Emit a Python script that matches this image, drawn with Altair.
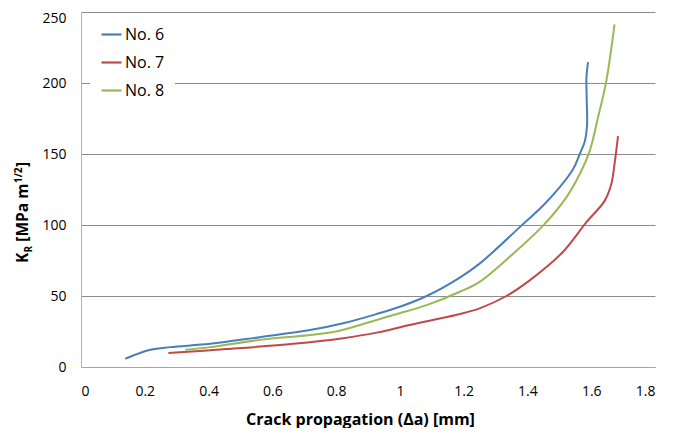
import altair as alt
import pandas as pd

# Series
no6_x = [0.139, 0.217, 0.28, 0.405, 0.561, 0.718, 0.822, 0.927, 1.0, 1.084, 1.188, 1.25, 1.376, 1.459, 1.543, 1.564, 1.58, 1.587, 1.586, 1.585, 1.590]
no6_y = [5.8, 12.1, 14.0, 16.3, 21.0, 26.0, 30.8, 37.3, 42.4, 50.0, 63.0, 72.8, 98.5, 116.0, 139.3, 150.0, 159.0, 171.0, 187.0, 203.5, 214.7]

no7_x = [0.274, 0.457, 0.666, 0.822, 0.927, 1.031, 1.188, 1.25, 1.334, 1.407, 1.511, 1.585, 1.642, 1.663, 1.673, 1.684]
no7_y = [9.8, 12.6, 16.3, 20.3, 24.2, 29.6, 37.3, 41.3, 50.0, 61.0, 81.0, 102.0, 117.0, 128.8, 142.8, 162.6]

no8_x = [0.327, 0.405, 0.561, 0.718, 0.80, 0.875, 0.979, 1.084, 1.188, 1.25, 1.355, 1.449, 1.522, 1.564, 1.595, 1.621, 1.647, 1.673]
no8_y = [12.1, 14.0, 19.1, 22.6, 25.0, 29.6, 36.6, 43.6, 53.0, 60.0, 79.8, 99.6, 119.5, 135.9, 152.0, 175.5, 201.0, 241.3]

series_names = ["No. 6", "No. 7", "No. 8"]
series_colors = ["#4A7EBB", "#BE4B48", "#98B954"]
x_ticks = [0, 0.2, 0.4, 0.6, 0.8, 1.0, 1.2, 1.4, 1.6, 1.8]
y_ticks = [0, 50, 100, 150, 200, 250]

rows = []
for name, xs, ys in zip(series_names, [no6_x, no7_x, no8_x], [no6_y, no7_y, no8_y]):
    for i, (xv, yv) in enumerate(zip(xs, ys)):
        rows.append({"series": name, "x": xv, "y": yv, "i": i})
df = pd.DataFrame(rows)

FONT = "Open Sans"
W, H = 574, 355

lines = alt.Chart(df).mark_line(strokeWidth=2, interpolate="catmull-rom").encode(
    x=alt.X("x:Q", scale=alt.Scale(domain=[0, 1.8], nice=False),
            axis=alt.Axis(values=x_ticks, format="~g", title="Crack propagation (\u0394a) [mm]",
                          grid=False, ticks=False, domain=True, domainColor="#a6a6a6",
                          labelFontSize=14, labelPadding=17, labelColor="#000000",
                          titleFontSize=16, titleFontWeight="bold",
                          titleX=279, titleY=57, titleBaseline="alphabetic", titleAlign="center",
                          titleColor="#000000", labelFont=FONT, titleFont=FONT)),
    y=alt.Y("y:Q", scale=alt.Scale(domain=[0, 250], nice=False),
            axis=alt.Axis(values=y_ticks, title=None, grid=True, gridColor="#8c8c8c",
                          ticks=False, domain=True, domainColor="#b5b5b5",
                          labelFontSize=14, labelPadding=15, labelColor="#000000",
                          labelOffset={"condition": {"test": "datum.value == 250", "value": 6}, "value": 0},
                          labelFont=FONT)),
    color=alt.Color("series:N", scale=alt.Scale(domain=series_names, range=series_colors),
                    legend=alt.Legend(title=None, orient="none", legendX=9, legendY=1,
                                      fillColor="white", padding=10, symbolType="stroke",
                                      symbolSize=400, symbolStrokeWidth=2.2,
                                      labelFontSize=16, labelFont=FONT, labelColor="#000000",
                                      rowPadding=8, labelOffset=2)),
    order=alt.Order("i:Q"),
)

one = pd.DataFrame({"k": [0]})
tx = -53
ty = 251

def piece(text, size, dx, dy):
    return alt.Chart(one).mark_text(
        text=text, angle=270, align="left", baseline="alphabetic", font=FONT,
        fontWeight="bold", fontSize=size, dx=dx, dy=dy, color="#000000"
    ).encode(x=alt.value(tx), y=alt.value(ty))

title_layers = [
    piece("K", 15.5, 0, 0),
    piece("R", 10, 10.5, 4),
    piece("[MPa m", 15.5, 21.3, 0),
    piece("1/2", 10, 80, -6.5),
    piece("]", 15.5, 96, 0),
]

chart = alt.layer(lines, *title_layers).properties(
    width=W, height=H,
    autosize=alt.AutoSizeParams(type="none"),
    padding={"left": 73, "top": 4, "right": 26, "bottom": 61},
).configure_view(stroke=None)

chart.save("out.html", embed_options={"renderer": "svg", "actions": False})
